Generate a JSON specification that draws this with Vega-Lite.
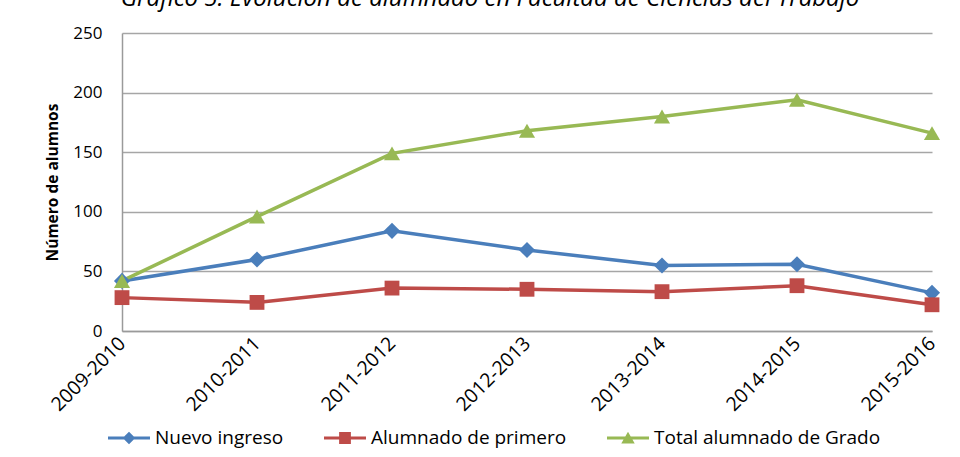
{
  "$schema": "https://vega.github.io/schema/vega-lite/v6.json",
  "width": 810,
  "height": 298,
  "autosize": {"type": "none"},
  "padding": {"left": 122, "top": 33, "right": 28, "bottom": 126},
  "background": "white",
  "title": {
    "text": "Gráfico 5. Evolución de alumnado en Facultad de Ciencias del Trabajo",
    "font": "Open Sans",
    "fontStyle": "italic",
    "fontWeight": "normal",
    "fontSize": 24,
    "color": "#000000",
    "anchor": "middle",
    "baseline": "alphabetic",
    "offset": -6,
    "dx": -37
  },
  "config": {
    "view": {"stroke": null},
    "font": "Open Sans"
  },
  "data": {
    "values": [
      {"curso": "2009-2010", "serie": "Nuevo ingreso", "valor": 42},
      {"curso": "2010-2011", "serie": "Nuevo ingreso", "valor": 60},
      {"curso": "2011-2012", "serie": "Nuevo ingreso", "valor": 84},
      {"curso": "2012-2013", "serie": "Nuevo ingreso", "valor": 68},
      {"curso": "2013-2014", "serie": "Nuevo ingreso", "valor": 55},
      {"curso": "2014-2015", "serie": "Nuevo ingreso", "valor": 56},
      {"curso": "2015-2016", "serie": "Nuevo ingreso", "valor": 32},
      {"curso": "2009-2010", "serie": "Alumnado de primero", "valor": 28},
      {"curso": "2010-2011", "serie": "Alumnado de primero", "valor": 24},
      {"curso": "2011-2012", "serie": "Alumnado de primero", "valor": 36},
      {"curso": "2012-2013", "serie": "Alumnado de primero", "valor": 35},
      {"curso": "2013-2014", "serie": "Alumnado de primero", "valor": 33},
      {"curso": "2014-2015", "serie": "Alumnado de primero", "valor": 38},
      {"curso": "2015-2016", "serie": "Alumnado de primero", "valor": 22},
      {"curso": "2009-2010", "serie": "Total alumnado de Grado", "valor": 42},
      {"curso": "2010-2011", "serie": "Total alumnado de Grado", "valor": 96},
      {"curso": "2011-2012", "serie": "Total alumnado de Grado", "valor": 149},
      {"curso": "2012-2013", "serie": "Total alumnado de Grado", "valor": 168},
      {"curso": "2013-2014", "serie": "Total alumnado de Grado", "valor": 180},
      {"curso": "2014-2015", "serie": "Total alumnado de Grado", "valor": 194},
      {"curso": "2015-2016", "serie": "Total alumnado de Grado", "valor": 166}
    ]
  },
  "encoding": {
    "x": {
      "field": "curso",
      "type": "ordinal",
      "scale": {"type": "point", "padding": 0},
      "axis": {
        "title": null,
        "labelAngle": -45,
        "labelAlign": "right",
        "labelBaseline": "middle",
        "labelFontSize": 19.5,
        "labelColor": "#000000",
        "labelPadding": 9,
        "labelLimit": 300,
        "ticks": false,
        "tickSize": 0,
        "domainColor": "#9a9a9a",
        "domainWidth": 1.5,
        "grid": false
      }
    },
    "y": {
      "field": "valor",
      "type": "quantitative",
      "scale": {"domain": [0, 250], "nice": false},
      "axis": {
        "title": "Número de alumnos",
        "titleFontSize": 15.5,
        "titleFontWeight": "bold",
        "titleColor": "#000000",
        "titlePadding": 12,
        "values": [0, 50, 100, 150, 200, 250],
        "labelFontSize": 17,
        "labelColor": "#000000",
        "labelPadding": 20,
        "ticks": false,
        "tickSize": 0,
        "domainColor": "#9a9a9a",
        "domainWidth": 1.5,
        "gridColor": "#a6a6a6",
        "gridWidth": 1.3
      }
    },
    "color": {
      "field": "serie",
      "type": "nominal",
      "sort": ["Nuevo ingreso", "Alumnado de primero", "Total alumnado de Grado"],
      "scale": {
        "domain": ["Nuevo ingreso", "Alumnado de primero", "Total alumnado de Grado"],
        "range": ["#4a7ebb", "#be4b48", "#98b954"]
      },
      "legend": {
        "title": null,
        "orient": "none",
        "legendX": -14,
        "legendY": 384,
        "direction": "horizontal",
        "columns": 3,
        "columnPadding": 40,
        "labelFontSize": 19,
        "labelColor": "#000000",
        "labelOffset": 5,
        "labelLimit": 400,
        "symbolSize": 1764,
        "symbolStrokeWidth": 0,
        "encode": {
          "symbols": {
            "update": {
              "shape": {"signal": "datum.value === 'Nuevo ingreso' ? 'M-1,-0.07H1V0.07H-1Z M0,-0.3L0.3,0L0,0.3L-0.3,0Z' : (datum.value === 'Alumnado de primero' ? 'M-1,-0.07H1V0.07H-1Z M-0.28,-0.28H0.28V0.28H-0.28Z' : 'M-1,-0.07H1V0.07H-1Z M0,-0.3L0.32,0.26L-0.32,0.26Z')"},
              "fill": {"signal": "datum.value === 'Nuevo ingreso' ? '#4a7ebb' : (datum.value === 'Alumnado de primero' ? '#be4b48' : '#98b954')"},
              "strokeWidth": {"value": 0},
              "opacity": {"value": 1}
            }
          }
        }
      }
    }
  },
  "layer": [
    {
      "mark": {"type": "line", "strokeWidth": 3.5}
    },
    {
      "transform": [{"filter": "datum.serie === 'Nuevo ingreso'"}],
      "mark": {"type": "point", "shape": "diamond", "filled": true, "opacity": 1, "size": 260}
    },
    {
      "transform": [{"filter": "datum.serie === 'Alumnado de primero'"}],
      "mark": {"type": "point", "shape": "square", "filled": true, "opacity": 1, "size": 220}
    },
    {
      "transform": [{"filter": "datum.serie === 'Total alumnado de Grado'"}],
      "mark": {"type": "point", "shape": "triangle-up", "filled": true, "opacity": 1, "size": 260}
    }
  ]
}
